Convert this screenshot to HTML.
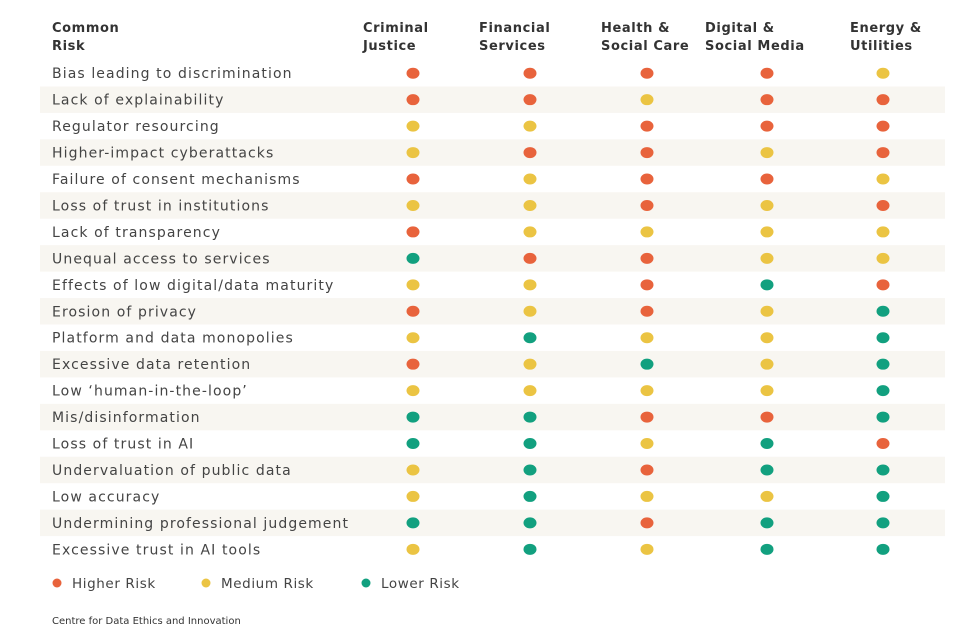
<!DOCTYPE html>
<html><head><meta charset="utf-8"><style>
body{margin:0;background:#fff;width:960px;height:640px;overflow:hidden}
svg{display:block;font-family:"DejaVu Sans","Liberation Sans",sans-serif}
</style></head><body>
<svg id="c" width="960" height="640"></svg>
<script>
const sectors=["Criminal|Justice","Financial|Services","Health &|Social Care","Digital &|Social Media","Energy &|Utilities"];
const risks=["Bias leading to discrimination","Lack of explainability","Regulator resourcing","Higher-impact cyberattacks","Failure of consent mechanisms","Loss of trust in institutions","Lack of transparency","Unequal access to services","Effects of low digital/data maturity","Erosion of privacy","Platform and data monopolies","Excessive data retention","Low \u2018human-in-the-loop\u2019","Mis/disinformation","Loss of trust in AI","Undervaluation of public data","Low accuracy","Undermining professional judgement","Excessive trust in AI tools"];
const levels=["H","M","L"];
const levelLabels=["Higher Risk","Medium Risk","Lower Risk"];
const cjus=["H","H","M","M","H","M","H","L","M","H","M","H","M","L","L","M","M","L","M"];
const fin=["H","H","M","H","M","M","M","H","M","M","L","M","M","L","L","L","L","L","L"];
const hsc=["H","M","H","H","H","H","M","H","H","H","M","L","M","H","M","H","M","H","M"];
const dsm=["H","H","H","M","H","M","M","M","L","M","M","M","M","H","L","L","M","L","L"];
const enu=["M","H","H","H","M","H","M","M","H","L","L","L","L","L","H","L","L","L","L"];
const series=[cjus,fin,hsc,dsm,enu];
const colors={H:"#e8633c",M:"#ebc443",L:"#12a07f"};
const svg=document.getElementById('c');const NS="http://www.w3.org/2000/svg";
function mk(t,a,p){const e=document.createElementNS(NS,t);for(const k in a)e.setAttribute(k,a[k]);(p||svg).appendChild(e);return e;}
const colX=[413,530,647,767,883], hdrX=[363,479,601,705,850];
const rowTop=60,rowH=26.45;
const y=i=>rowTop+rowH*i;
for(let i=0;i<risks.length;i++){
 if(i%2==1){const r=mk('rect',{x:40,y:y(i),width:905,height:rowH,fill:'#f8f6f1'});
 
 }
 const t=mk('text',{x:52,y:y(i)+rowH/2+5,'font-size':14,fill:'#444','letter-spacing':'1.1'});t.textContent=risks[i];
 
 
 for(let j=0;j<series.length;j++){
  const d=mk('ellipse',{cx:colX[j],cy:y(i)+rowH/2,rx:6.5,ry:5.5,fill:colors[series[j][i]]});
  
  
 }
}
const h=mk('text',{x:52,y:32,'font-size':13,'font-weight':'bold',fill:'#333','letter-spacing':'0.6'});h.innerHTML='<tspan x="52">Common</tspan><tspan x="52" dy="18">Risk</tspan>';


sectors.forEach((s,j)=>{const p=s.split('|');const t=mk('text',{'font-size':13,'font-weight':'bold',fill:'#333','letter-spacing':'0.6'});
 t.innerHTML=`<tspan x="${hdrX[j]}" y="32">${p[0].replace('&','&amp;')}</tspan><tspan x="${hdrX[j]}" y="50">${p[1]}</tspan>`;
 
 });
const legX=[57,206,366];
levels.forEach((l,k)=>{const c=mk('circle',{cx:legX[k],cy:583,r:4.5,fill:colors[l]});
 
 
 const t=mk('text',{x:legX[k]+15,y:588,'font-size':13.5,fill:'#444','letter-spacing':'0.6'});t.textContent=levelLabels[k];
 
 });
const s=mk('text',{x:52,y:624,'font-size':10,fill:'#333'});s.textContent="Centre for Data Ethics and Innovation";


</script></body></html>
